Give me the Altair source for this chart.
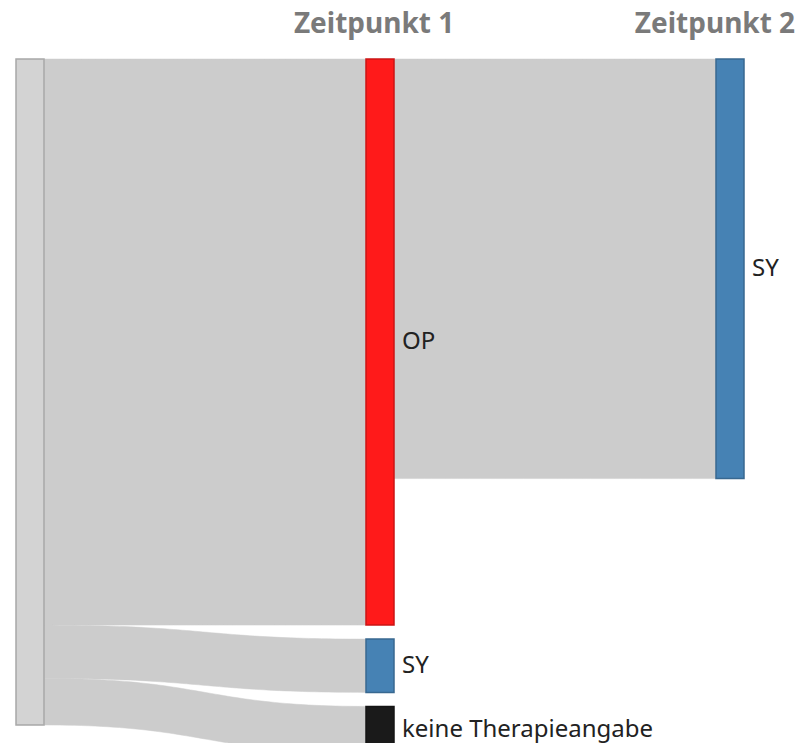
import altair as alt
import pandas as pd
import numpy as np

# ---- data ----
node_ids = ["start", "op1", "sy1", "kt1", "sy2"]
node_labels = ["", "OP", "SY", "keine Therapieangabe", "SY"]
node_stage = [0, 1, 1, 1, 2]
node_colors = ["#d3d3d3", "#ff1a1a", "#4682b4", "#1a1a1a", "#4682b4"]

link_source = ["start", "start", "start", "op1"]
link_target = ["op1", "sy1", "kt1", "sy2"]
link_value = [85, 8, 7, 63]

stage_titles = ["Zeitpunkt 1", "Zeitpunkt 2"]
stage_title_pos = [1.023, 1.997]

# ---- layout constants ----
W, H = 789, 735
PX_PER_UNIT = 6.66
TOP_PX = 51
STAGE_PX = 350
LEFT_PX = 8
NODE_W = 28 / STAGE_PX
NODE_PAD = 14 / PX_PER_UNIT
LABEL_GAP = 8 / STAGE_PX

x_dom = [-LEFT_PX / STAGE_PX, (W - LEFT_PX) / STAGE_PX]
y_dom = [-TOP_PX / PX_PER_UNIT, (H - TOP_PX) / PX_PER_UNIT]

# node values
val_in = {n: 0 for n in node_ids}
val_out = {n: 0 for n in node_ids}
for s, t, v in zip(link_source, link_target, link_value):
    val_out[s] += v
    val_in[t] += v
node_val = {n: max(val_in[n], val_out[n]) for n in node_ids}

# stack nodes within each stage
node_y0 = {}
cursor = {}
for n, st in zip(node_ids, node_stage):
    y = cursor.get(st, 0.0)
    node_y0[n] = y
    cursor[st] = y + node_val[n] + NODE_PAD
stage_of = dict(zip(node_ids, node_stage))


def darker(hexc, k=0.7):
    r, g, b = int(hexc[1:3], 16), int(hexc[3:5], 16), int(hexc[5:7], 16)
    return "#%02x%02x%02x" % (int(r * k), int(g * k), int(b * k))


nodes = pd.DataFrame({
    "id": node_ids,
    "label": node_labels,
    "nx": [stage_of[n] for n in node_ids],
    "nx2": [stage_of[n] + NODE_W for n in node_ids],
    "ny": [node_y0[n] for n in node_ids],
    "ny2": [node_y0[n] + node_val[n] for n in node_ids],
    "fill": node_colors,
    "stroke": [darker(c, 0.8) for c in node_colors],
})
nodes["ymid"] = (nodes["ny"] + nodes["ny2"]) / 2
nodes["xl"] = nodes["nx2"] + LABEL_GAP

# link bands (horizontal cubic Bezier, like a sankey layout)
out_cursor = dict(node_y0)
in_cursor = dict(node_y0)
rows = []
ts = np.linspace(0, 1, 60)
for i, (s, t, v) in enumerate(zip(link_source, link_target, link_value)):
    x0 = stage_of[s] + NODE_W
    x1 = stage_of[t]
    xm = (x0 + x1) / 2
    s0 = out_cursor[s]
    t0 = in_cursor[t]
    out_cursor[s] += v
    in_cursor[t] += v
    for tt in ts:
        a, b, c, d = (1 - tt) ** 3, 3 * (1 - tt) ** 2 * tt, 3 * (1 - tt) * tt ** 2, tt ** 3
        xx = a * x0 + b * xm + c * xm + d * x1
        ytop = (a + b) * s0 + (c + d) * t0
        ybot = (a + b) * (s0 + v) + (c + d) * (t0 + v)
        rows.append({"link": "L%d" % i, "lx": float(xx), "ytop": float(ytop), "ybot": float(ybot)})
links = pd.DataFrame(rows)

titles = pd.DataFrame({"t": stage_titles, "tx": stage_title_pos, "ty": [-3.9, -3.9]})

xs = alt.Scale(domain=x_dom, nice=False, zero=False)
ys = alt.Scale(domain=y_dom, nice=False, zero=False, reverse=True)

link_layer = alt.Chart(links).mark_area(
    fill="#cccccc", fillOpacity=1, orient="vertical", stroke="#cccccc", strokeWidth=0.5
).encode(
    x=alt.X("lx:Q", scale=xs, axis=None),
    y=alt.Y("ytop:Q", scale=ys, axis=None),
    y2=alt.Y2("ybot:Q"),
    detail="link:N",
)

node_layer = alt.Chart(nodes).mark_rect(strokeWidth=1.5).encode(
    x=alt.X("nx:Q", scale=xs, axis=None),
    x2="nx2:Q",
    y=alt.Y("ny:Q", scale=ys, axis=None),
    y2="ny2:Q",
    fill=alt.Fill("fill:N", scale=None),
    stroke=alt.Stroke("stroke:N", scale=None),
)

label_layer = alt.Chart(nodes).mark_text(
    align="left", baseline="middle", font="Noto Sans", fontSize=24, color="#222222"
).encode(
    x=alt.X("xl:Q", scale=xs, axis=None),
    y=alt.Y("ymid:Q", scale=ys, axis=None),
    text="label:N",
)

title_layer = alt.Chart(titles).mark_text(
    align="center", baseline="alphabetic", font="Noto Sans", fontSize=28,
    fontWeight="bold", color="#7a7a7a"
).encode(
    x=alt.X("tx:Q", scale=xs, axis=None),
    y=alt.Y("ty:Q", scale=ys, axis=None),
    text="t:N",
)

chart = alt.layer(link_layer, node_layer, label_layer, title_layer).properties(
    width=W, height=H, padding=0, autosize=alt.AutoSizeParams(type="none")
).configure_view(stroke=None)

chart.save("out.html", embed_options={"renderer": "svg", "actions": False})
